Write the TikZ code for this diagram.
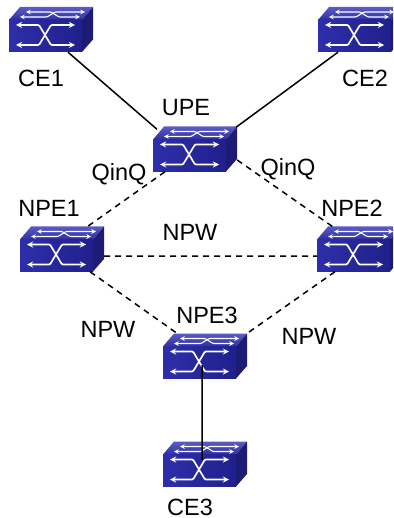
\documentclass[tikz,border=0pt]{standalone}
\usepackage{fontspec}
\setmainfont{Liberation Sans}
\usetikzlibrary{positioning, calc}
\definecolor{swfront}{HTML}{2E2EAA}
\definecolor{swfrontdark}{HTML}{20208C}
\definecolor{swtop}{HTML}{5C5CC4}
\definecolor{swtopdark}{HTML}{2E2EA4}
\definecolor{swside}{HTML}{1C1C74}
\tikzset{
	swbody/.style={minimum width=84, minimum height=45, inner sep=0},
	swarrow/.style={draw=white, line width=1.7, stealth-stealth, rounded corners=1},
	swthin/.style={draw=white, line width=1.1, stealth-stealth, rounded corners=1},
	lbl/.style={inner sep=0, font=\fontsize{23.5}{26}\selectfont},
	link/.style={black, line width=1.5},
	dlink/.style={link, dash pattern=on 6 off 5}
}
\newcommand{\switchnode}[2]{
	\node[swbody] (#1) at (#2) {};
	\begin{scope}[shift={(#2)}]
		\shade[top color=swtop, bottom color=swtopdark] (-42,-9.5) -- (-31,-22.5) -- (42,-22.5) -- (31,-9.5) -- cycle;
		\fill[swside] (31,-9.5) -- (42,-22.5) -- (42,10) -- (31,22.5) -- cycle;
		\shade[left color=swfront, right color=swfrontdark] (-42,-9.5) rectangle (31,22.5);
		\draw[swthin] (-25,-17.5) -- (0,-17.5) -- (8,-12.5) -- (29,-12.5);
		\draw[swthin] (-31,-12.5) -- (-4,-12.5) -- (4,-17.5) -- (34,-17.5);
		\draw[swarrow] (-35,-4.5) -- (-12,-4.5) -- (0,15.5) -- (24,15.5);
		\draw[swarrow] (-35,15.5) -- (-12,15.5) -- (0,-4.5) -- (24,-4.5);
	\end{scope}
}
\begin{document}
\begin{tikzpicture}[x=1pt, y=-1pt]
	\useasboundingbox (0,0) rectangle (393,518);
	\clip (0,0) rectangle (393,518);
	
	\switchnode{CE1}{51,29.5}
	\switchnode{CE2}{360,29.5}
	\switchnode{UPE}{195,149}
	\switchnode{NPE1}{62,249}
	\switchnode{NPE2}{359,249}
	\switchnode{NPE3}{205,356}
	\switchnode{CE3}{205,464}
	
	\draw[link]
	([xshift=17]CE1.south) -- ([xshift=-38,yshift=-3]UPE.north)
	([xshift=-22]CE2.south) -- ([xshift=41,yshift=-1]UPE.north)
	([xshift=-3,yshift=-9]NPE3.center) -- ([xshift=-3,yshift=4]CE3.center);
	
	\draw[dlink]
	([xshift=-30]UPE.south) -- ([xshift=23,yshift=-2]NPE1.north)
	([yshift=-11]UPE.east) -- ([xshift=-24,yshift=-2]NPE2.north)
	([yshift=-7]NPE1.east) -- ([yshift=-7]NPE2.west)
	([xshift=28]NPE1.south) -- ([xshift=-28]NPE3.north)
	([xshift=-24]NPE2.south) -- (NPE3.north east);
	
	\node[lbl] (CE1text) at (41,78) {CE1};
	\node[lbl] (CE2text) at (365,78) {CE2};
	\node[lbl] (UPEtext) at (186,108) {UPE};
	\node[lbl] (QinQ1) at (119,174) {QinQ};
	\node[lbl] (QinQ2) at (288,169) {QinQ};
	\node[lbl] (NPE1text) at (49,208) {NPE1};
	\node[lbl] (NPE2text) at (352,208) {NPE2};
	\node[lbl] (NPW1) at (190,232) {NPW};
	\node[lbl] (NPW2) at (108,329) {NPW};
	\node[lbl] (NPW3) at (309,336) {NPW};
	\node[lbl] (NPE3text) at (207,315) {NPE3};
	\node[lbl] (CE3text) at (190,507) {CE3};
\end{tikzpicture}
\end{document}
